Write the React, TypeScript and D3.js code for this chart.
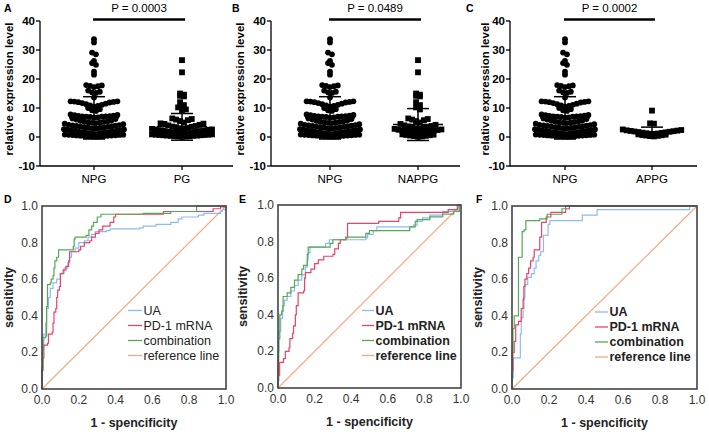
import React from 'react';
import * as d3 from 'd3';

// ---------------- scatter data (relative expression level) ----------------
const NPG = [
  0.1, 0.15, 0.2, 0.25, 0.3, 0.35, 0.4, 0.45, 0.5, 0.55, 0.6, 0.65, 0.7, 0.75, 0.8, 0.85,
  1.0, 1.1, 1.2, 1.3, 1.4, 1.5, 1.6, 1.7, 1.8, 1.9, 2.0, 2.1, 2.2, 2.3, 2.4, 2.5, 2.6, 2.7,
  2.9, 3.0, 3.1, 3.2, 3.3, 3.4, 3.5, 3.6, 3.7, 3.8, 3.9, 4.0, 4.1, 4.2, 4.4, 4.6,
  4.8, 4.9, 5.0, 5.1, 5.2, 5.3, 5.4, 5.6, 5.8, 6.0, 6.2, 6.4,
  6.7, 6.8, 6.9, 7.0, 7.0, 7.1, 7.1, 7.2, 7.3, 7.4, 7.5, 7.6, 7.8,
  9.0, 9.2, 9.6, 10.0,
  10.5, 10.7, 10.9, 11.1, 11.3, 11.5, 11.7, 11.9, 12.0, 12.1, 12.2, 12.3, 12.3,
  13.6, 15.2, 15.4, 15.6, 16.0, 17.2, 17.5, 17.6, 17.8, 17.9,
  21.5, 22.5, 24.9, 25.5, 26.2, 28.5, 29.1, 32.6, 33.7,
];
const NAPPG = [
  0.1, 0.2, 0.3, 0.4, 0.5, 0.6, 0.7, 0.8, 0.9,
  1.0, 1.2, 1.4, 1.5, 1.6, 1.8, 2.0, 2.1, 2.2, 2.4, 2.5, 2.6, 2.8,
  2.9, 3.0, 3.2, 3.4, 3.5, 3.6, 3.8, 4.0, 4.2, 4.5,
  5.0, 5.5, 5.8, 6.0, 6.2, 6.4,
  9.5, 10.2, 11.0, 12.0, 14.0, 14.2, 14.6, 15.0, 22.3, 26.5,
];
const APPG = [
  0.2, 0.3, 0.4, 0.5, 0.6, 0.7, 0.8, 0.9,
  1.0, 1.1, 1.2, 1.3, 1.4, 1.5, 1.6, 1.7, 1.8, 1.9, 2.0, 2.1, 2.2, 2.3, 2.4, 2.6,
  4.6, 4.7, 9.1,
];
const PG = [...NAPPG, ...APPG];

const GROUP_NAMES = ['NPG', 'PG', 'NAPPG', 'APPG'];
const GROUP_VALUES = [NPG, PG, NAPPG, APPG];
const GROUP_MEAN = [6.6, 3.5, 4.3, 1.8];
const GROUP_SD = [7.3, 4.6, 5.5, 1.6];

const SCATTER_LETTERS = ['A', 'B', 'C'];
const SCATTER_PAIRS = [['NPG', 'PG'], ['NPG', 'NAPPG'], ['NPG', 'APPG']];
const P_LABELS = ['P = 0.0003', 'P = 0.0489', 'P = 0.0002'];
const Y_TICKS = [-10, 0, 10, 20, 30, 40];

// ---------------- ROC data: [1 - specificity, sensitivity] step corners ----------------
const D_UA = [[0,0],[0,0.1],[0.005,0.22],[0.01,0.3],[0.02,0.36],[0.025,0.44],[0.035,0.5],[0.045,0.55],[0.06,0.58],[0.08,0.6],[0.1,0.63],[0.12,0.66],[0.14,0.69],[0.15,0.72],[0.16,0.75],[0.18,0.77],[0.2,0.8],[0.23,0.81],[0.25,0.83],[0.27,0.845],[0.29,0.86],[0.35,0.865],[0.37,0.875],[0.53,0.88],[0.55,0.89],[0.62,0.9],[0.7,0.91],[0.74,0.93],[0.76,0.94],[0.85,0.95],[0.88,0.96],[0.97,0.97],[0.98,0.98],[1,1]];
const D_PD1 = [[0,0],[0,0.1],[0.005,0.17],[0.01,0.24],[0.03,0.25],[0.035,0.3],[0.055,0.31],[0.06,0.36],[0.065,0.42],[0.075,0.44],[0.08,0.5],[0.085,0.54],[0.095,0.56],[0.1,0.63],[0.115,0.65],[0.13,0.67],[0.145,0.7],[0.15,0.75],[0.2,0.76],[0.21,0.78],[0.23,0.8],[0.26,0.81],[0.27,0.83],[0.29,0.85],[0.31,0.87],[0.33,0.89],[0.37,0.91],[0.39,0.94],[0.4,0.955],[0.66,0.97],[0.93,0.985],[0.97,0.995],[1,1]];
const D_COMB = [[0,0],[0,0.12],[0.005,0.28],[0.02,0.29],[0.025,0.45],[0.03,0.57],[0.045,0.58],[0.05,0.6],[0.06,0.62],[0.065,0.66],[0.07,0.7],[0.08,0.72],[0.09,0.76],[0.17,0.78],[0.175,0.82],[0.18,0.83],[0.24,0.84],[0.255,0.87],[0.27,0.89],[0.28,0.91],[0.3,0.94],[0.32,0.955],[0.55,0.96],[0.7,0.97],[0.84,1],[1,1]];

const E_UA = [[0,0],[0,0.2],[0.005,0.31],[0.015,0.38],[0.025,0.45],[0.035,0.48],[0.05,0.5],[0.07,0.53],[0.09,0.56],[0.11,0.59],[0.13,0.62],[0.15,0.66],[0.16,0.7],[0.165,0.74],[0.175,0.77],[0.26,0.79],[0.28,0.81],[0.48,0.82],[0.49,0.84],[0.52,0.86],[0.54,0.88],[0.74,0.89],[0.76,0.91],[0.79,0.93],[0.83,0.945],[0.9,0.965],[0.99,1],[1,1]];
const E_PD1 = [[0,0],[0,0.04],[0.004,0.07],[0.009,0.14],[0.03,0.16],[0.04,0.2],[0.06,0.22],[0.065,0.27],[0.08,0.3],[0.085,0.34],[0.095,0.4],[0.1,0.45],[0.11,0.52],[0.14,0.53],[0.145,0.6],[0.15,0.63],[0.18,0.65],[0.2,0.68],[0.22,0.7],[0.25,0.72],[0.3,0.73],[0.31,0.76],[0.33,0.79],[0.34,0.81],[0.37,0.82],[0.38,0.9],[0.55,0.91],[0.66,0.93],[0.67,0.96],[0.93,0.975],[0.98,1],[1,1]];
const E_COMB = [[0,0],[0,0.15],[0.004,0.27],[0.01,0.4],[0.02,0.42],[0.028,0.5],[0.05,0.52],[0.07,0.55],[0.09,0.59],[0.11,0.62],[0.13,0.65],[0.14,0.67],[0.16,0.73],[0.165,0.77],[0.285,0.79],[0.3,0.81],[0.37,0.825],[0.48,0.845],[0.5,0.86],[0.72,0.88],[0.75,0.91],[0.76,0.92],[0.83,0.935],[0.9,0.95],[0.96,0.965],[0.99,1],[1,1]];

const F_UA = [[0,0],[0,0.06],[0.007,0.17],[0.045,0.3],[0.05,0.39],[0.06,0.44],[0.065,0.5],[0.07,0.57],[0.085,0.61],[0.105,0.63],[0.12,0.66],[0.13,0.7],[0.145,0.73],[0.155,0.75],[0.17,0.84],[0.195,0.9],[0.205,0.92],[0.38,0.95],[0.46,0.98],[0.96,1],[1,1]];
const F_PD1 = [[0,0],[0,0.1],[0.005,0.2],[0.012,0.26],[0.02,0.35],[0.035,0.37],[0.05,0.44],[0.06,0.49],[0.064,0.56],[0.07,0.6],[0.08,0.63],[0.09,0.66],[0.1,0.7],[0.114,0.72],[0.12,0.76],[0.15,0.83],[0.16,0.91],[0.185,0.94],[0.21,0.965],[0.29,0.985],[0.31,1],[1,1]];
const F_COMB = [[0,0],[0,0.2],[0.005,0.33],[0.012,0.4],[0.035,0.72],[0.055,0.86],[0.065,0.87],[0.075,0.92],[0.15,0.93],[0.19,0.955],[0.27,0.985],[0.29,1],[1,1]];

const ROC_LETTERS = ['D', 'E', 'F'];
const ROC_CURVES = [[D_UA, D_PD1, D_COMB], [E_UA, E_PD1, E_COMB], [F_UA, F_PD1, F_COMB]];
const ROC_SERIES = ['UA', 'PD-1 mRNA', 'combination', 'reference line'];
const ROC_COLORS = ['#8dbbf0', '#e8436a', '#55a955', '#f7a57c'];
const ROC_TICKS = [0, 0.2, 0.4, 0.6, 0.8, 1.0];

// ---------------- layout ----------------
const SCAT_GEOM = [
  { axisX: 40, rightX: 233, c0: 94, c1: 182, labelX: 9, letterX: 4 },
  { axisX: 271, rightX: 460, c0: 330, c1: 418, labelX: 240, letterX: 232 },
  { axisX: 510, rightX: 697, c0: 565, c1: 652, labelX: 485, letterX: 466 },
];
const ROC_GEOM = [
  { x0: 42, x1: 226, y0: 206, y1: 389, legX: 128, legW: 14, legY: 310.5, bold: false, letterX: 4, labelX: 9 },
  { x0: 278, x1: 461, y0: 205, y1: 388, legX: 362, legW: 12, legY: 310.5, bold: true, letterX: 239, labelX: 243 },
  { x0: 512, x1: 697, y0: 206, y1: 389, legX: 595, legW: 13, legY: 312, bold: true, letterX: 476, labelX: 478 },
];

const FONT = 'Liberation Sans, Arial, Helvetica, sans-serif';

function swarm(values: number[], binSize: number, spacing: number, maxWidth: number) {
  const sorted = [...values].sort((a, b) => a - b);
  const groups = d3.groups(sorted, (v) => Math.round(v / binSize));
  const out: { v: number; dx: number }[] = [];
  for (const [, items] of groups) {
    const n = items.length;
    const sp = n > 1 ? Math.min(spacing, maxWidth / (n - 1)) : 0;
    items.forEach((v, i) => {
      let off: number;
      if (n % 2 === 1) {
        const k = Math.ceil(i / 2);
        off = (i % 2 === 1 ? 1 : -1) * k * sp;
      } else {
        const k = Math.floor(i / 2) + 0.5;
        off = (i % 2 === 0 ? 1 : -1) * k * sp;
      }
      out.push({ v, dx: off });
    });
  }
  return out;
}

function ScatterPanel({ idx }: { idx: number }) {
  const g = SCAT_GEOM[idx];
  const pair = SCATTER_PAIRS[idx];
  const y = d3.scaleLinear().domain([-10, 40]).range([166, 21]);
  const x = d3.scalePoint<string>().domain(pair).range([g.c0, g.c1]);
  const R = 2.9;
  return (
    <g>
      <text x={g.letterX} y={12} fontFamily={FONT} fontWeight="bold" fontSize={10.5}>{SCATTER_LETTERS[idx]}</text>
      <line x1={g.axisX} x2={g.axisX} y1={y(40)} y2={y(-10)} stroke="#000" strokeWidth={1.3} />
      {Y_TICKS.map((t) => (
        <g key={t}>
          <line x1={g.axisX - 4} x2={g.axisX} y1={y(t)} y2={y(t)} stroke="#000" strokeWidth={1.3} />
          <text x={g.axisX - 5} y={y(t)} textAnchor="end" dominantBaseline="central" fontFamily={FONT} fontWeight="bold" fontSize={11.5}>{t}</text>
        </g>
      ))}
      <line x1={g.axisX} x2={g.rightX} y1={y(-10)} y2={y(-10)} stroke="#000" strokeWidth={1.3} />
      {pair.map((c) => (
        <g key={c}>
          <line x1={x(c)} x2={x(c)} y1={y(-10)} y2={y(-10) + 4} stroke="#000" strokeWidth={1.3} />
          <text x={x(c)} y={y(-10) + 13} textAnchor="middle" dominantBaseline="central" fontFamily={FONT} fontSize={11.5}>{c}</text>
        </g>
      ))}
      <text transform={`translate(${g.labelX},${89}) rotate(-90)`} textAnchor="middle" dominantBaseline="central" fontFamily={FONT} fontWeight="bold" fontSize={11.5}>relative expression level</text>
      {pair.map((c, ci) => {
        const gi = GROUP_NAMES.indexOf(c);
        const pts = swarm(GROUP_VALUES[gi], 1.9, 3.9, 60);
        const cx = x(c) as number;
        const m = GROUP_MEAN[gi];
        const s = GROUP_SD[gi];
        return (
          <g key={c}>
            {pts.map((p, i) =>
              ci === 0 ? (
                <circle key={i} cx={cx + p.dx} cy={y(p.v)} r={R} fill="#000" />
              ) : (
                <rect key={i} x={cx + p.dx - R} y={y(p.v) - R} width={2 * R} height={2 * R} fill="#000" />
              )
            )}
            <g stroke="#000" strokeWidth={1.5}>
              <line x1={cx} x2={cx} y1={y(m - s)} y2={y(m + s)} />
              <line x1={cx - 25} x2={cx + 25} y1={y(m)} y2={y(m)} />
              <line x1={cx - 11} x2={cx + 11} y1={y(m + s)} y2={y(m + s)} />
              <line x1={cx - 11} x2={cx + 11} y1={y(m - s)} y2={y(m - s)} />
            </g>
          </g>
        );
      })}
      <line x1={(x(pair[0]) as number) - 1} x2={(x(pair[1]) as number) + 3} y1={19.5} y2={19.5} stroke="#000" strokeWidth={2.6} />
      <text x={((x(pair[0]) as number) + (x(pair[1]) as number)) / 2 + 1} y={12} textAnchor="middle" fontFamily={FONT} fontSize={11.5}>{P_LABELS[idx]}</text>
    </g>
  );
}

function RocPanel({ idx }: { idx: number }) {
  const g = ROC_GEOM[idx];
  const x = d3.scaleLinear().domain([0, 1]).range([g.x0, g.x1]);
  const y = d3.scaleLinear().domain([0, 1]).range([g.y1, g.y0]);
  const line = d3
    .line<number[]>()
    .x((d) => x(d[0]))
    .y((d) => y(d[1]))
    .curve(d3.curveStepAfter);
  const refLine = d3.line<number[]>().x((d) => x(d[0])).y((d) => y(d[1]));
  const curves = ROC_CURVES[idx];
  return (
    <g>
      <text x={g.letterX} y={203} fontFamily={FONT} fontWeight="bold" fontSize={10.5}>{ROC_LETTERS[idx]}</text>
      <path d={refLine([[0, 0], [1, 1]]) || ''} fill="none" stroke={ROC_COLORS[3]} strokeWidth={1.1} />
      {curves.map((c, i) => (
        <path key={i} d={line(c as number[][]) || ''} fill="none" stroke={ROC_COLORS[i]} strokeWidth={1.2} />
      ))}
      <rect x={g.x0} y={g.y0} width={g.x1 - g.x0} height={g.y1 - g.y0} fill="none" stroke="#444" strokeWidth={1.6} />
      {ROC_TICKS.map((t) => (
        <text key={'y' + t} x={g.x0 - 4} y={y(t)} textAnchor="end" dominantBaseline="central" fontFamily={FONT} fontSize={12} fill="#333">{t.toFixed(1)}</text>
      ))}
      {ROC_TICKS.map((t) => (
        <text key={'x' + t} x={x(t)} y={g.y1 + 11} textAnchor="middle" dominantBaseline="central" fontFamily={FONT} fontSize={12} fill="#333">{t.toFixed(1)}</text>
      ))}
      <text transform={`translate(${g.labelX},${(g.y0 + g.y1) / 2}) rotate(-90)`} textAnchor="middle" dominantBaseline="central" fontFamily={FONT} fontWeight="bold" fontSize={12.5} fill="#222">sensitivity</text>
      <text x={(g.x0 + g.x1) / 2} y={g.y1 + 34} textAnchor="middle" dominantBaseline="central" fontFamily={FONT} fontWeight="bold" fontSize={12.5} fill="#222">1 - spencificity</text>
      {ROC_SERIES.map((s, i) => (
        <g key={s}>
          <line x1={g.legX} x2={g.legX + g.legW} y1={g.legY + i * 15} y2={g.legY + i * 15} stroke={ROC_COLORS[i]} strokeWidth={1.3} />
          <text x={g.legX + g.legW + 1.5} y={g.legY + i * 15} dominantBaseline="central" fontFamily={FONT} fontWeight={g.bold ? 'bold' : 'normal'} fontSize={12.5} fill="#222">{s}</text>
        </g>
      ))}
    </g>
  );
}

export default function App() {
  return (
    <svg width={709} height={432} style={{ position: 'absolute', left: 0, top: 0, background: '#fff' }}>
      <rect width={709} height={432} fill="#fff" />
      {[0, 1, 2].map((i) => <ScatterPanel key={'s' + i} idx={i} />)}
      {[0, 1, 2].map((i) => <RocPanel key={'r' + i} idx={i} />)}
    </svg>
  );
}
